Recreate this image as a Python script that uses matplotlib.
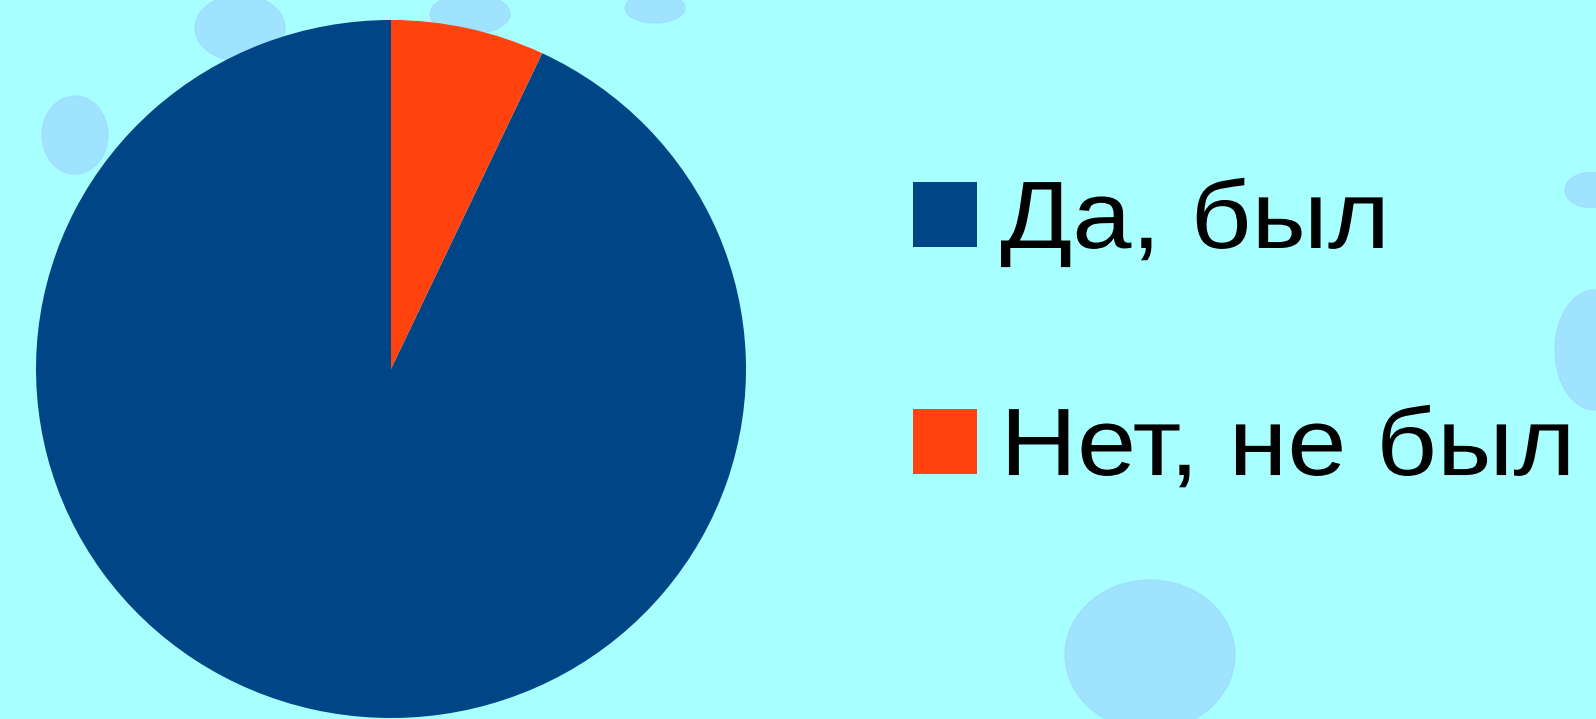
import matplotlib.pyplot as plt
from matplotlib.patches import Ellipse
from matplotlib import patheffects
from matplotlib.transforms import Affine2D

plt.rcParams['font.family'] = ['Liberation Sans', 'DejaVu Sans']

labels = ["Да, был", "Нет, не был"]
values = [93, 7]
colors = ["#004586", "#FF420E"]

W, H = 1596, 719


class Stretch(patheffects.AbstractPathEffect):
    # widen glyphs horizontally around x0 (display px)
    def __init__(self, x0, sx):
        super().__init__()
        self.x0 = x0
        self.sx = sx

    def draw_path(self, renderer, gc, tpath, affine, rgbFace=None):
        t = affine + Affine2D().translate(-self.x0, 0).scale(self.sx, 1).translate(self.x0, 0)
        renderer.draw_path(gc, tpath, t, rgbFace)


fig = plt.figure(figsize=(W / 100, H / 100), dpi=100)
fig.patch.set_facecolor("#A8FFFF")

# faint background blobs (decoration only)
blobs = [(240, 28, 90, 66), (75, 135, 66, 78), (655, 8, 60, 30), (470, 14, 80, 40),
         (1150, 655, 170, 150), (1595, 350, 80, 120), (1590, 190, 50, 35)]
for bx, by, bw, bh in blobs:
    fig.patches.append(Ellipse((bx / W, 1 - by / H), bw / W, bh / H,
                               transform=fig.transFigure, color="#9ED8FF",
                               alpha=0.7, zorder=-5))

cx, cy, rx, ry = 391, 369, 355, 349
ax = fig.add_axes([(cx - rx) / W, (H - cy - ry) / H, 2 * rx / W, 2 * ry / H])
ax.set_facecolor("none")
wedges, _ = ax.pie(values, colors=colors, startangle=90, counterclock=True,
                   radius=1, wedgeprops=dict(linewidth=0))
ax.set_xlim(-1, 1)
ax.set_ylim(-1, 1)
ax.set_aspect("auto")
ax.axis("off")

leg = fig.legend(wedges, labels, loc="upper left",
                 bbox_to_anchor=(913 / W, 1 - 178 / H),
                 fontsize=69, frameon=False,
                 handlelength=0.67, handleheight=0.66,
                 handletextpad=0.24, labelspacing=1.43,
                 borderpad=0, borderaxespad=0)

fig.canvas.draw()
for t in leg.get_texts():
    x0 = t.get_window_extent().x0
    t.set_path_effects([Stretch(x0, 1.11)])

fig.savefig("out.png", dpi=100, facecolor=fig.get_facecolor())
